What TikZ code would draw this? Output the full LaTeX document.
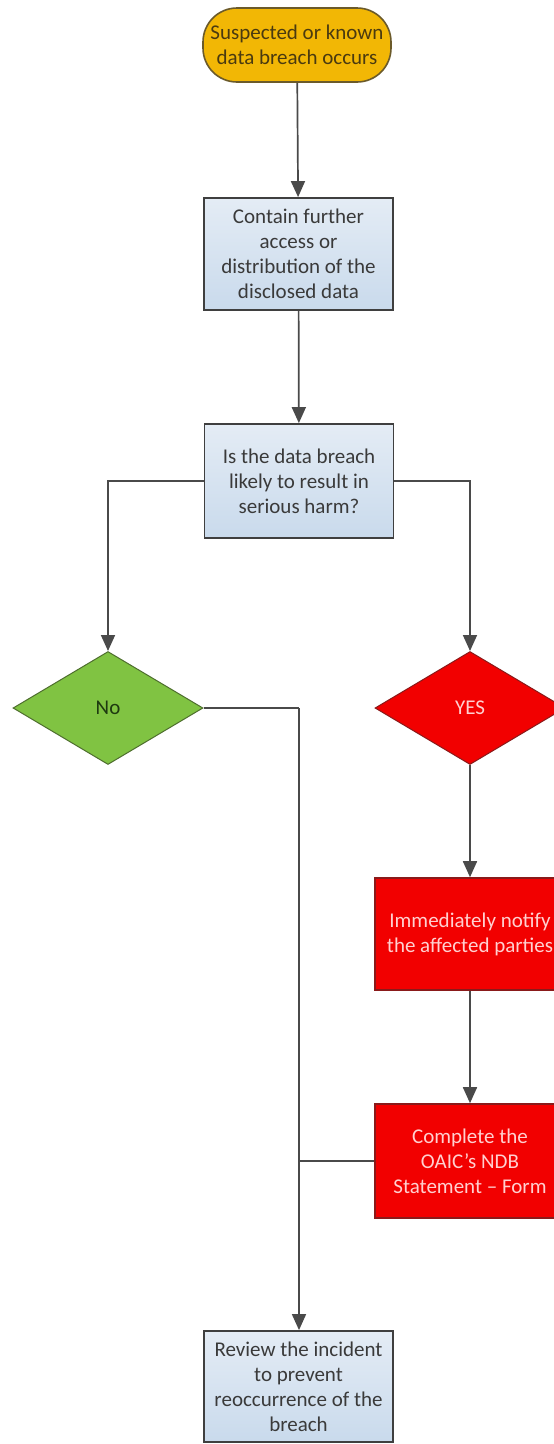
\documentclass[tikz,border=0pt]{standalone}
\usepackage{fontspec}
\setmainfont{Carlito}
\usetikzlibrary{shapes.geometric,arrows.meta,shadings}
\definecolor{linegray}{HTML}{4A4A4A}
\definecolor{startfill}{HTML}{F2B705}
\definecolor{startdraw}{HTML}{6B5A2A}
\definecolor{starttext}{HTML}{4A3A10}
\definecolor{boxtop}{HTML}{E4ECF5}
\definecolor{boxbot}{HTML}{C9DAEC}
\definecolor{boxdraw}{HTML}{3F3F3F}
\definecolor{boxtext}{HTML}{3A3A3A}
\definecolor{nofill}{HTML}{80C342}
\definecolor{nodraw}{HTML}{4E6E2E}
\definecolor{notext}{HTML}{1E3A10}
\definecolor{redfill}{HTML}{F20000}
\definecolor{reddraw}{HTML}{8A1A1A}
\definecolor{redtext}{HTML}{FFD0D0}
\tikzset{
  conn/.style={draw=linegray, line width=1.7pt, -{Triangle[width=14pt,length=16pt]}},
  plainconn/.style={draw=linegray, line width=1.7pt},
  basetext/.style={font=\fontsize{21}{25}\selectfont, align=center, inner sep=0pt},
  startbox/.style={basetext, rectangle, rounded corners=34pt, fill=startfill, draw=startdraw, line width=1.6pt, text=starttext, minimum width=188pt, minimum height=74pt},
  bluebox/.style={basetext, rectangle, top color=boxtop, bottom color=boxbot, draw=boxdraw, line width=1.8pt, text=boxtext, minimum width=189pt, minimum height=112pt},
  nodiamond/.style={basetext, diamond, fill=nofill, draw=nodraw, line width=1pt, text=notext, minimum width=190pt, minimum height=113pt},
  yesdiamond/.style={basetext, diamond, fill=redfill, draw=reddraw, line width=1pt, text=redtext, minimum width=190pt, minimum height=113pt},
  redbox/.style={basetext, rectangle, fill=redfill, draw=reddraw, line width=1.6pt, text=redtext, minimum width=190pt, minimum height=112pt},
}
\begin{document}
\begin{tikzpicture}[x=1pt,y=-1pt]
\useasboundingbox (0,0) rectangle (554,1444);
\clip (0,0) rectangle (554,1444);
\fill[white] (0,0) rectangle (554,1444);
\node[startbox] (start) at (297,45) {Suspected or known\\data breach occurs};
\node[bluebox] (contain) at (298.5,254) {Contain further\\access or\\distribution of the\\disclosed data};
\node[bluebox, minimum height=114pt] (question) at (299,481) {Is the data breach\\likely to result in\\serious harm?};
\node[nodiamond] (no) at (108,708) {No};
\node[yesdiamond] (yes) at (470,708) {YES};
\node[redbox] (notify) at (470,934) {Immediately notify\\the affected parties};
\node[redbox, minimum height=114pt] (complete) at (470,1161) {Complete the\\OAIC’s NDB\\Statement – Form};
\node[bluebox, minimum height=111pt] (review) at (298.5,1386.5) {Review the incident\\to prevent\\reoccurrence of the\\breach};
\coordinate (nocorner) at (299,708);
\coordinate (join) at (299,1161);
\draw[conn] (start) -- (contain);
\draw[conn] (contain) -- (question);
\draw[conn] (question.west) -| (no.north);
\draw[conn] (question.east) -| (yes.north);
\draw[conn] (yes) -- (notify);
\draw[conn] (notify) -- (complete);
\draw[plainconn] (no.east) -- (nocorner);
\draw[conn] (nocorner) -- (review.north -| nocorner);
\draw[plainconn] (complete.west) -- (join);
\end{tikzpicture}
\end{document}
